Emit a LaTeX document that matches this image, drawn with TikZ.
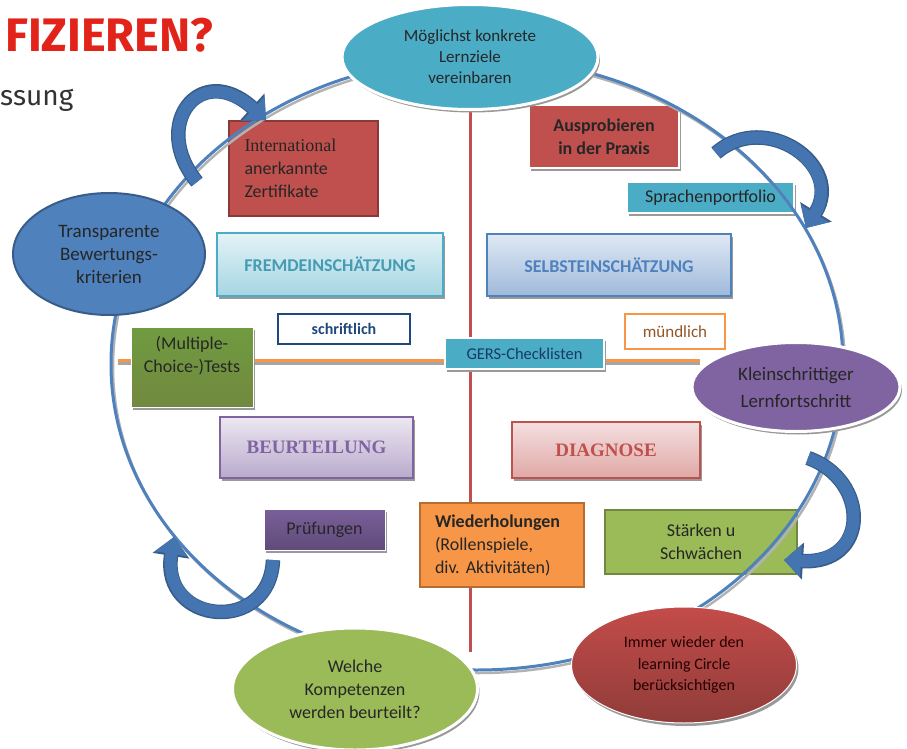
\documentclass[tikz,border=0pt]{standalone}
\usepackage{fontspec}
\setmainfont{Carlito}
\newfontfamily\serifface{Liberation Serif}
\newfontfamily\headface{Fira Sans}
\usetikzlibrary{shapes.geometric,arrows.meta,shadows}

\definecolor{tealc}{HTML}{4BACC6}
\definecolor{bluec}{HTML}{4F81BD}
\definecolor{bluedark}{HTML}{385D8A}
\definecolor{arrblue}{HTML}{4575B0}
\definecolor{redc}{HTML}{C0504D}
\definecolor{reddark}{HTML}{8C3836}
\definecolor{purplec}{HTML}{8064A2}
\definecolor{greenc}{HTML}{9BBB59}
\definecolor{greendark}{HTML}{71893F}
\definecolor{orangec}{HTML}{F79646}
\definecolor{orangedark}{HTML}{B66D31}
\definecolor{navy}{HTML}{1F497D}
\definecolor{txt}{HTML}{262626}
\definecolor{titlered}{HTML}{E2231A}

\begin{document}
\begin{tikzpicture}[x=1pt,y=1pt,yscale=-1,xscale=1,
  box/.style={rectangle, draw, line width=1.5pt, align=center, inner sep=2pt, text=txt, font=\fontsize{18}{23}\selectfont},
  shad/.style={drop shadow={shadow xshift=2pt, shadow yshift=-3pt, fill=black!40, opacity=1}},
  wbox/.style={box, draw=white, line width=2pt, shad},
  oval/.style={ellipse, inner sep=0pt, align=center, text=txt, font=\fontsize{18}{23}\selectfont},
  bigarr/.style={line width=12pt, draw=arrblue, -{Triangle[length=17pt,width=32pt]},
    preaction={draw=bluedark, line width=14.5pt, -{Triangle[length=19pt,width=36pt]}}}
]
\useasboundingbox (0,0) rectangle (907,749);

% Text Node
\node (titel) [anchor=base west, inner sep=0pt, text=titlered, font=\headface\bfseries\fontsize{47}{47}\selectfont] at (5,52) {FIZIEREN?};
% Text Node
\node (unter) [anchor=base west, inner sep=0pt, text=black!80, font=\headface\fontsize{28}{28}\selectfont] at (0,106) {ssung};

%Straight Lines
\draw [redc, line width=3] (470,105) -- (470,652) ;
%Straight Lines
\draw [black!35, line width=3] (118,363) -- (700,363) ;
\draw [orangec, line width=3] (118,360) -- (700,360) ;

%Shape: Rectangle
\node (intl) [box, fill=redc, draw=reddark, minimum width=149, minimum height=95, text width=118, inner xsep=15, align=left] at (303.5,168.5) {{\serifface International}\\anerkannte\\Zertifikate};
\node (aus) [wbox, fill=redc, minimum width=150, minimum height=63, font=\bfseries\fontsize{18}{23}\selectfont] at (604,136.5) {Ausprobieren\\in der Praxis};
\node (sprach) [wbox, fill=tealc, minimum width=167, minimum height=31] at (710.5,197.5) {Sprachenportfolio};
\node (fremd) [box, draw=tealc, top color=tealc!15, bottom color=tealc!50, text=tealc!90!black, minimum width=226, minimum height=63, shad, font=\bfseries\fontsize{18}{23}\selectfont] at (330,264.5) {FREMDEINSCHÄTZUNG};
\node (selbst) [box, draw=bluec, top color=bluec!18, bottom color=bluec!55, text=bluec, minimum width=244, minimum height=62, shad, font=\bfseries\fontsize{18}{23}\selectfont] at (609,265) {SELBSTEINSCHÄTZUNG};
\node (schrift) [box, draw=navy, fill=white, text=navy, minimum width=132, minimum height=30, font=\bfseries\fontsize{16}{20}\selectfont] at (344,329) {schriftlich};
\node (muend) [box, draw=orangec, fill=white, text=orangedark!80!black, minimum width=100, minimum height=35, font=\fontsize{17}{20}\selectfont] at (675,331.5) {mündlich};
\node (gers) [wbox, fill=tealc, text=navy!80!black, minimum width=159, minimum height=31, font=\fontsize{16.5}{20}\selectfont] at (524.5,353.5) {GERS-Checklisten};
\node (mc) [box, draw=white, line width=1pt, top color=greenc!90!green!80!black, bottom color=greendark, minimum width=122, minimum height=80, text depth=26pt, shad] at (192,367) {(Multiple-\\Choice-)Tests};
\node (beur) [box, draw=purplec, top color=purplec!15, bottom color=purplec!55, text=purplec, minimum width=193, minimum height=61, shad, font=\serifface\bfseries\fontsize{19}{23}\selectfont] at (316.5,447.5) {BEURTEILUNG};
\node (diag) [box, draw=redc, top color=redc!18, bottom color=redc!50, text=redc, minimum width=188, minimum height=56, shad, font=\serifface\bfseries\fontsize{19}{23}\selectfont] at (606,450) {DIAGNOSE};
\node (pruef) [box, draw=white, line width=1pt, top color=purplec!95!black, bottom color=purplec!75!black, minimum width=121, minimum height=41, shad] at (324.5,529.5) {Prüfungen};
\node (wieder) [box, fill=orangec, draw=orangedark, minimum width=164, minimum height=84, text width=134, inner xsep=15, align=left] at (502,545) {\textbf{Wiederholungen}\\(Rollenspiele,\\div.\ Aktivitäten)};
\node (staerk) [box, fill=greenc, draw=greendark, minimum width=192, minimum height=64] at (701,542) {Stärken u\\Schwächen};

%Shape: Ellipse
\draw [black!30, line width=2.5] (479,367) ellipse [x radius=366, y radius=306] ;
\draw [bluec, line width=3] (477,364) ellipse [x radius=366, y radius=306] ;

%Shape: Ellipse
\node (ziele) [oval, fill=tealc, draw=white, line width=3pt, shad, minimum width=256, minimum height=105, font=\fontsize{17}{21}\selectfont] at (470,57) {Möglichst konkrete\\Lernziele\\vereinbaren};
\node (transp) [oval, fill=bluec, draw=bluedark, line width=2pt, minimum width=192, minimum height=122, font=\fontsize{19}{23}\selectfont] at (109,254) {Transparente\\Bewertungs-\\kriterien};
\node (klein) [oval, fill=purplec, draw=white, line width=3pt, shad, minimum width=208, minimum height=89, font=\fontsize{19}{27}\selectfont] at (796,387) {Kleinschrittiger\\Lernfortschritt};
\node (immer) [oval, top color=redc!95!red, bottom color=redc!75!black, draw=white, line width=1pt, shad, minimum width=225, minimum height=116, text=black!85!red, font=\fontsize{16}{21.5}\selectfont] at (684,665) {Immer wieder den\\learning Circle\\berücksichtigen};
\node (welche) [oval, fill=greenc, draw=white, line width=3pt, shad, minimum width=245, minimum height=122] at (355,689) {Welche\\Kompetenzen\\werden beurteilt?};

%Curve Lines
\draw [bigarr] (197,182) .. controls (150,125) and (200,60) .. (266,120) ;
%Curve Lines
\draw [bigarr] (716,153) .. controls (765,110) and (845,165) .. (806,228) ;
%Curve Lines
\draw [bigarr] (808,458) .. controls (870,480) and (870,565) .. (784,560) ;
%Curve Lines
\draw [bigarr] (273,560) .. controls (270,635) and (160,625) .. (174,537) ;

\end{tikzpicture}
\end{document}
